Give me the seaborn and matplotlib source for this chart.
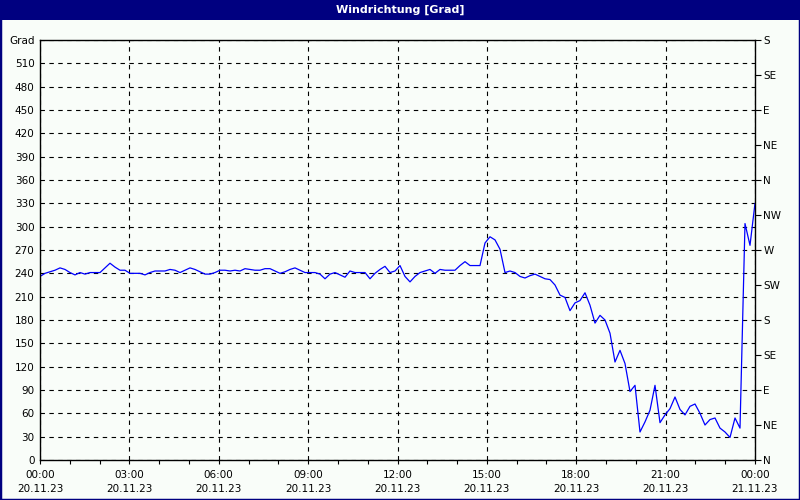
import pandas as pd
import matplotlib
matplotlib.use("Agg")
import matplotlib.pyplot as plt
import matplotlib.dates as mdates
from matplotlib.patches import Rectangle
import seaborn as sns

# wind direction in degrees, roughly every 10 minutes over one day
direction = [
    236, 240, 242, 244, 247, 245, 241, 238, 241, 239,
    241, 241, 241, 247, 253, 248, 244, 244, 240, 240,
    240, 238, 241, 243, 243, 243, 245, 244, 241, 244,
    247, 245, 242, 239, 239, 241, 244, 244, 243, 244,
    243, 246, 245, 244, 244, 246, 246, 243, 240, 242,
    245, 247, 244, 241, 241, 241, 239, 233, 239, 241,
    238, 235, 243, 241, 241, 241, 233, 240, 245, 249,
    241, 243, 250, 236, 229, 236, 241, 243, 245, 240,
    245, 244, 244, 244, 250, 255, 250, 250, 250, 279,
    287, 283, 271, 241, 243, 241, 236, 234, 237, 239,
    236, 233, 232, 225, 212, 209, 192, 202, 205, 215,
    199, 176, 186, 180, 163, 126, 141, 124, 88, 96,
    36, 49, 64, 96, 48, 58, 66, 81, 65, 58,
    69, 72, 60, 45, 52, 54, 41, 36, 29, 54,
    41, 304, 276, 330,
]
start_time = "2023-11-20 00:00"
end_time = "2023-11-21 00:00"

left_ticks = list(range(0, 541, 30))
left_labels = [str(v) for v in left_ticks[:-1]] + ["Grad"]
compass_ticks = list(range(0, 541, 45))
compass_labels = ["N", "NE", "E", "SE", "S", "SW", "W", "NW", "N", "NE", "E", "SE", "S"]

sns.set_style("white")
plt.rcParams["font.family"] = ["DejaVu Sans"]
plt.rcParams["font.size"] = 7.5

bg = "#f9fdf9"
navy = "#000080"


def main():
    df = pd.DataFrame({
        "time": pd.date_range(start_time, end_time, periods=len(direction)),
        "grad": direction,
    })

    fig = plt.figure(figsize=(8, 5), dpi=100, facecolor=bg)
    ax = fig.add_axes([40 / 800, 40 / 500, 715 / 800, 420 / 500])
    ax.set_facecolor(bg)

    sns.lineplot(data=df, x="time", y="grad", ax=ax, color="#0000ff", linewidth=0.9)

    ax.set_xlim(pd.Timestamp(start_time), pd.Timestamp(end_time))
    ax.set_ylim(0, 540)
    ax.set_xlabel("")
    ax.set_ylabel("")

    ax.xaxis.set_major_locator(mdates.HourLocator(interval=3))
    ax.xaxis.set_minor_locator(mdates.HourLocator())
    ax.xaxis.set_major_formatter(mdates.DateFormatter("%H:%M\n%d.%m.%y"))
    ax.set_yticks(left_ticks)
    ax.set_yticklabels(left_labels)

    ax.grid(True, which="major", color="black", linestyle=(0, (4, 4)), linewidth=0.8)
    ax.tick_params(axis="x", which="both", direction="out", length=3, width=0.8,
                   color="black", pad=4, bottom=True, labelcolor="black")
    ax.tick_params(axis="y", which="both", length=0, pad=4, labelcolor="black")
    for t in ax.get_xticklabels():
        t.set_linespacing(1.55)

    for s in ax.spines.values():
        s.set_color("black")
        s.set_linewidth(1)

    ax2 = ax.twinx()
    ax2.set_ylim(0, 540)
    ax2.set_yticks(compass_ticks)
    ax2.set_yticklabels(compass_labels)
    ax2.tick_params(axis="y", direction="out", length=4, width=0.8, color="black",
                    pad=2, labelcolor="black")
    for s in ax2.spines.values():
        s.set_visible(False)
    ax2.grid(False)

    # window style title bar and frame
    fig.patches.append(Rectangle((0, 1 - 20 / 500), 1, 20 / 500, transform=fig.transFigure,
                                 facecolor=navy, edgecolor="none", zorder=0))
    fig.patches.append(Rectangle((0, 0), 1, 1, transform=fig.transFigure,
                                 facecolor="none", edgecolor=navy, linewidth=2.5, zorder=5))
    fig.text(0.5, 1 - 10 / 500, "Windrichtung [Grad]", color="white", fontsize=8,
             fontweight="bold", ha="center", va="center")

    fig.savefig("out.png", dpi=100, facecolor=bg)


if __name__ == "__main__":
    main()
